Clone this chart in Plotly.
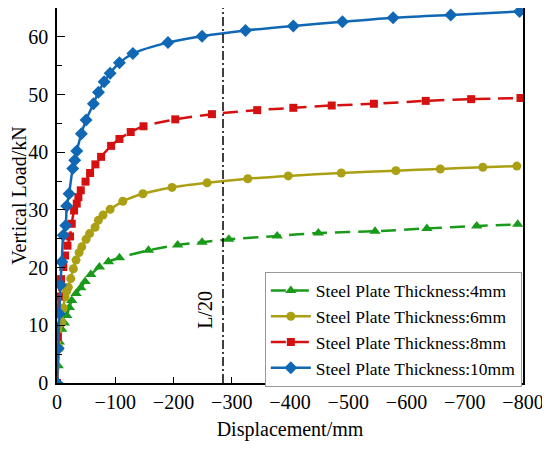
import plotly.graph_objects as go

# data (displacement in mm, load in kN)
x_4mm = [0, -2, -4, -8, -12.6, -16.7, -21.2, -25.3, -32.7, -40.8, -48.2, -58, -72.8, -88.3,
         -107.2, -157, -207, -249, -295, -378, -448.7, -546, -635, -720.6, -791]
y_4mm = [0, 3, 7.1, 9.3, 10.4, 11.7, 13.1, 14.3, 15.5, 16.5, 17.6, 18.8, 20.1, 21.0,
         21.7, 23.0, 23.9, 24.4, 24.9, 25.5, 26.0, 26.3, 26.8, 27.2, 27.5]

x_6mm = [0, -4, -8, -10.8, -13.8, -16.4, -19.4, -23.6, -28.1, -32.7, -37.9, -42.5, -49.9, -56,
         -65.4, -71, -79, -91.2, -113, -147.5, -197.4, -257.7, -327.5, -397, -488, -581.8,
         -658, -731, -789.5]
y_6mm = [0, 6, 10.5, 13.0, 14.9, 15.9, 16.6, 18.1, 19.8, 21.3, 22.6, 23.6, 24.9, 25.9,
         27.0, 28.2, 29.1, 30.1, 31.5, 32.8, 33.9, 34.7, 35.4, 35.9, 36.4, 36.8,
         37.1, 37.4, 37.6]

x_8mm = [0, -1.5, -3, -7, -10.8, -13.8, -18, -22.4, -25.3, -29.3, -33.9, -36.7, -40.8, -49,
         -56.8, -65.9, -75.7, -92.9, -107.2, -126.5, -148.5, -203, -266, -343.7, -405.7,
         -471.6, -544, -633, -711, -795.7]
y_8mm = [0, 8, 15, 18, 20.1, 22.1, 23.8, 25.4, 27.6, 29.9, 31.1, 32.2, 33.4, 34.9,
         36.4, 37.9, 39.2, 41.1, 42.3, 43.5, 44.5, 45.7, 46.6, 47.3, 47.7,
         48.1, 48.4, 48.9, 49.2, 49.4]

x_10mm = [0, -2, -4, -6, -8.1, -10.8, -15, -16.7, -20.7, -27, -30.5, -33.9, -41.8, -49.9,
          -62.5, -71.1, -80.9, -91.2, -107.2, -130.3, -190.5, -249, -323.6, -405.7, -490,
          -577, -676, -794]
y_10mm = [0, 6, 12, 17, 21.0, 25.6, 27.3, 30.7, 32.8, 37.2, 38.6, 40.2, 43.2, 45.6,
          48.4, 50.4, 52.2, 53.7, 55.5, 57.1, 59.0, 60.1, 61.1, 61.9, 62.6,
          63.3, 63.8, 64.4]

x_l20 = -285

font = "Liberation Serif"

series = [
    ("Steel Plate Thickness:4mm", x_4mm, y_4mm, "#1a9a1a", "15px,8px", "triangle-up", 10),
    ("Steel Plate Thickness:6mm", x_6mm, y_6mm, "#aba014", "solid", "circle", 9),
    ("Steel Plate Thickness:8mm", x_8mm, y_8mm, "#d41010", "15px,8px", "square", 8),
    ("Steel Plate Thickness:10mm", x_10mm, y_10mm, "#1068b4", "solid", "diamond", 10),
]

fig = go.Figure()
for name, xs, ys, col, dash, sym, sz in series:
    fig.add_trace(go.Scatter(
        x=xs, y=ys, name=name, mode="lines+markers",
        line=dict(color=col, width=2.5, dash=dash, shape="spline", smoothing=0.8),
        marker=dict(symbol=sym, size=sz, color=col),
    ))

# L/20 reference line
fig.add_shape(type="line", x0=x_l20, x1=x_l20, y0=0, y1=65, xref="x", yref="y",
              line=dict(color="black", width=1.5, dash="9px,3px,2px,3px"))
fig.add_annotation(x=-255, y=12.6, text="L/20", showarrow=False, textangle=-90,
                   font=dict(size=20, color="black", family=font))

# page has an 8px body margin, margins below account for it
fig.update_layout(
    width=550, height=450,
    margin=dict(l=49, r=35, t=0, b=75),
    plot_bgcolor="white", paper_bgcolor="white",
    font=dict(family=font, size=20, color="black"),
    showlegend=True,
    legend=dict(x=0.446, y=0.297, xanchor="left", yanchor="top",
                bgcolor="white", bordercolor="#999999", borderwidth=1,
                font=dict(size=17.5, family=font), itemwidth=40, tracegroupgap=0),
)
fig.update_xaxes(
    range=[0, -800], dtick=100, automargin=False,
    title=dict(text="Displacement/mm", standoff=10, font=dict(family=font, size=20)),
    tickfont=dict(family=font, size=20),
    showline=True, linecolor="black", linewidth=1.5, mirror=True,
    ticks="inside", ticklen=6, tickwidth=1.2, tickcolor="black",
    showgrid=False, zeroline=False,
)
fig.update_yaxes(
    range=[0, 65], dtick=10, automargin=False, ticklabelstandoff=3,
    title=dict(text="Vertical Load/kN", standoff=0, font=dict(family=font, size=20)),
    tickfont=dict(family=font, size=20),
    showline=True, linecolor="black", linewidth=1.5, mirror=True,
    ticks="inside", ticklen=8, tickwidth=1.2, tickcolor="black",
    minor=dict(ticks="inside", ticklen=5, dtick=5, tickcolor="black", tickwidth=1.2),
    showgrid=False, zeroline=False,
)

fig.write_html("out.html")
